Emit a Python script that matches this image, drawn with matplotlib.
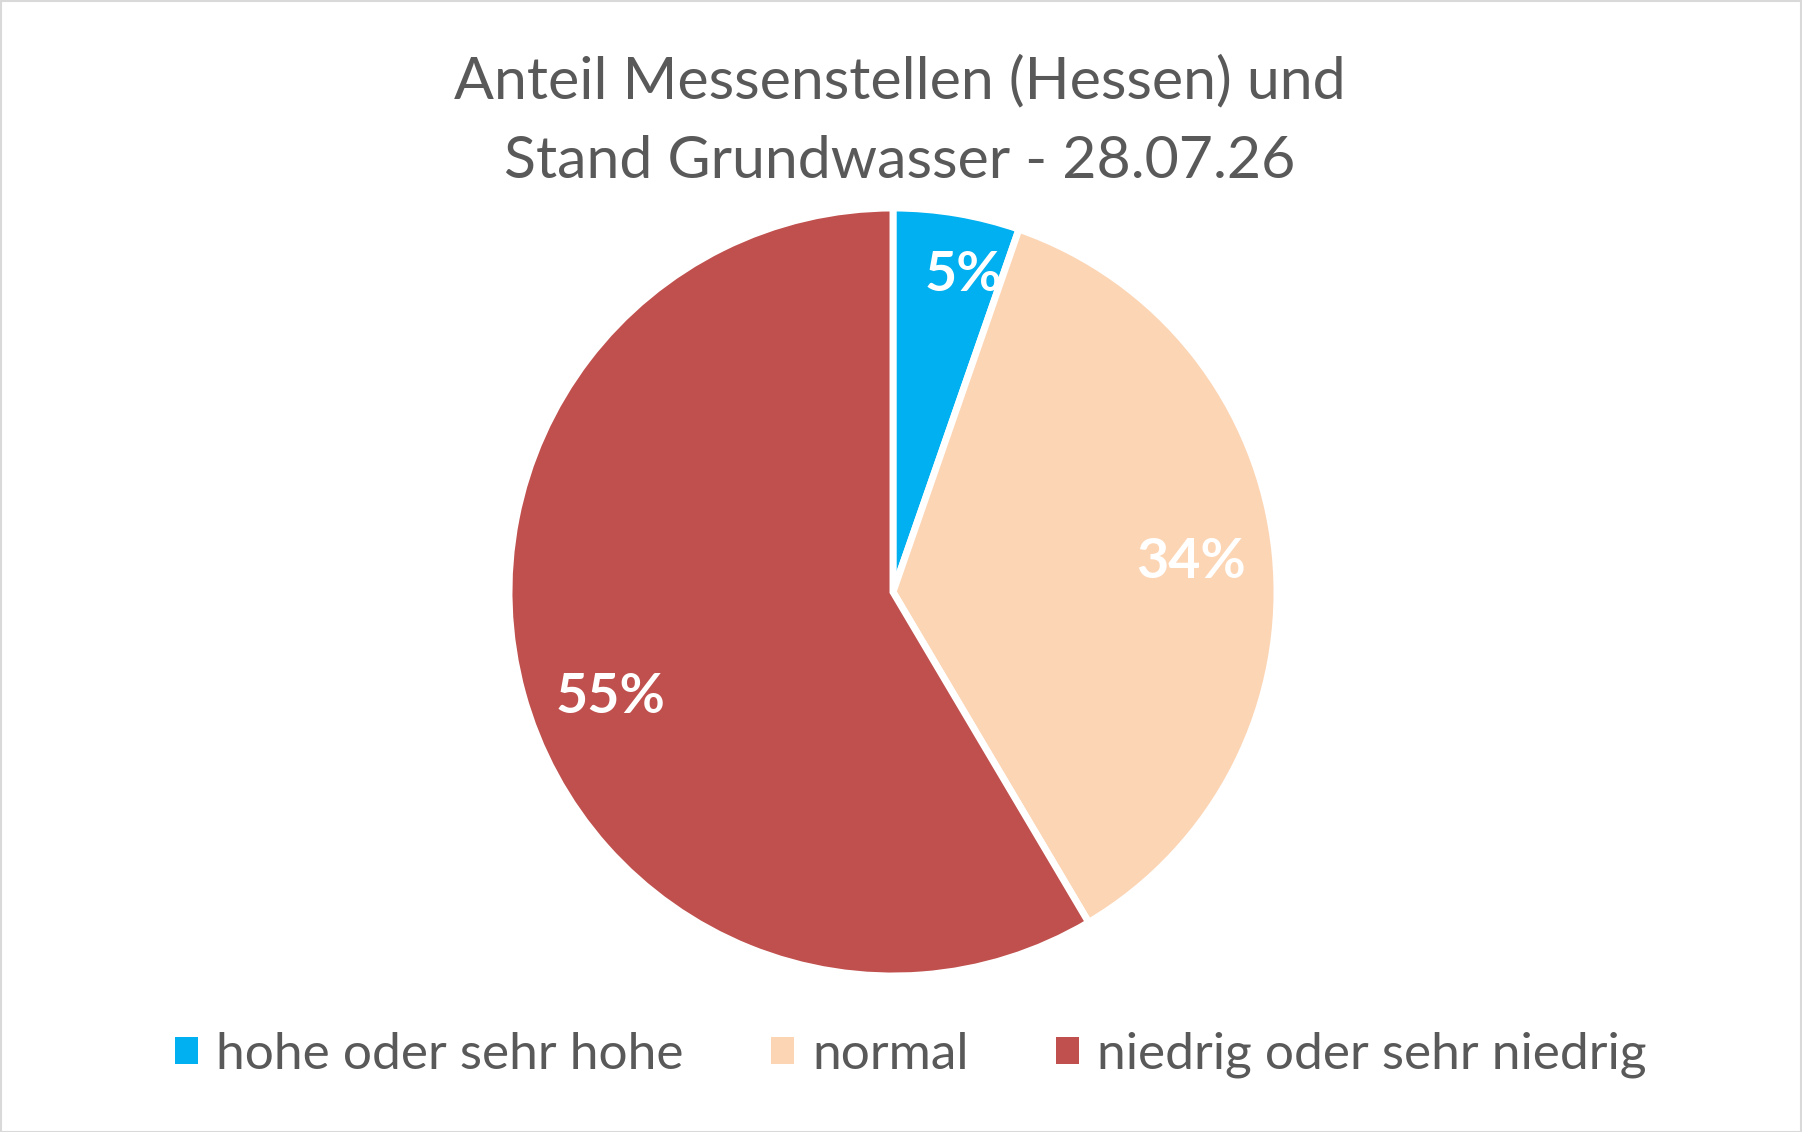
import matplotlib
matplotlib.use("Agg")
import matplotlib.pyplot as plt
from matplotlib.patches import Patch, Rectangle
import numpy as np

categories = ["hohe oder sehr hohe", "normal", "niedrig oder sehr niedrig"]
values = [5, 34, 55]
value_labels = ["5%", "34%", "55%"]
colors = ["#00B0F0", "#FCD5B5", "#C0504D"]
title_lines = ["Anteil Messenstellen (Hessen) und", "Stand Grundwasser - 28.07.26"]

FONT = ["Lato", "DejaVu Sans"]
plt.rcParams["font.family"] = FONT

W, H = 1802, 1132
fig = plt.figure(figsize=(W / 100, H / 100), dpi=100)
fig.patch.set_facecolor("white")

# border
fig.add_artist(Rectangle((0.5 / W, 0.5 / H), 1 - 1.5 / W, 1 - 1.5 / H, transform=fig.transFigure,
                         fill=False, edgecolor="#D9D9D9", linewidth=1.5))

cx, cy, r = 893, 592, 384
ax = fig.add_axes([(cx - r) / W, (H - cy - r) / H, 2 * r / W, 2 * r / H])
wedges, _ = ax.pie(values, colors=colors, startangle=90, counterclock=False,
                   wedgeprops=dict(edgecolor="white", linewidth=5, joinstyle="miter"))
ax.set_xlim(-1, 1)
ax.set_ylim(-1, 1)
ax.set_aspect("equal")
ax.axis("off")

label_r = [0.845, 0.78, 0.785]
label_rot = [-3, 0, 5]
for w, lab, lr, dr in zip(wedges, value_labels, label_r, label_rot):
    mid = np.deg2rad((w.theta1 + w.theta2) / 2 + dr)
    ax.text(lr * np.cos(mid), lr * np.sin(mid), lab, ha="center", va="center",
            color="white", fontsize=40, fontweight="bold")

fig.text(0.4995, 1 - 98 / H, title_lines[0], ha="center", va="baseline",
         fontsize=42.5, color="#595959")
fig.text(0.4995, 1 - 178 / H, title_lines[1], ha="center", va="baseline",
         fontsize=42.5, color="#595959")

handles = [Patch(facecolor=c, edgecolor="none") for c in colors]
fig.legend(handles, categories, loc="center", bbox_to_anchor=(0.5055, 0.068), ncol=3,
           frameon=False, fontsize=37, labelcolor="#595959", handlelength=0.45,
           handleheight=0.45, handletextpad=0.35, columnspacing=1.7)

fig.savefig("out.png", dpi=100, facecolor="white")
